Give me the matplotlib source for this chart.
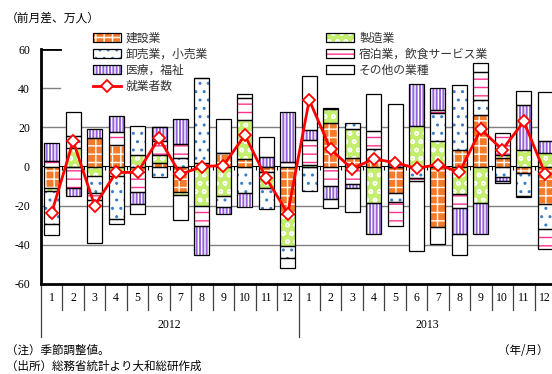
import numpy as np
import matplotlib
matplotlib.use("Agg")
import matplotlib.pyplot as plt

plt.rcParams['font.family'] = ['Noto Sans CJK JP', 'DejaVu Sans']
plt.rcParams['hatch.linewidth'] = 1.0

months = [str(m) for m in range(1, 13)] * 2
years = ["2012", "2013"]

series_names = ["建設業", "製造業", "卸売業，小売業", "宿泊業，飲食サービス業", "医療，福祉", "その他の業種"]

construction = [-11, 0, 14.6, 10.8, -2.9, 2, -13, 2, 6.9, 4, -2.9, -24.4,
                0, 22, 4.5, 3.5, -13.7, 0, -30.9, 8.6, 26.2, 4.5, -3.4, -19.2]
manufacturing = [-1.7, 9.6, -4.6, -4.6, 5.7, 4, -1.5, -20, -14.9, 20, -8, -16.3,
                 1, 7.2, 14.9, -18.4, 0, 20.6, 13, -14.1, -18.4, 1.2, 8.2, 6.9]
wholesale = [-16.8, 6, -9, -22.3, 15.1, -5.5, 4.5, 43, -6, -13.7, -10.8, -6,
             -12.3, 0.5, 2.6, 5.5, -4.6, -6, 14.1, 33.1, 7.7, -5.5, -11.5, -12.9]
hospitality = [3, -11, -3.4, 6.9, -10.3, 7, 6.9, -10.3, 0, 10.8, 0, 2.2,
               12.7, -9.8, -8.9, 9, -12, -1.5, 1.7, -6.9, 14.6, 11.5, -0.9, -9.8]
medical = [9.2, -4, 4.6, 8, -6, 7, 12.7, -15, -3.4, -7.2, 4.6, 25.7,
           5.1, -6.9, -2, -16, 1.5, 21.3, 11.1, -13.4, -16, -1.7, 23.2, 6.2]
others = [-5.7, 12.3, -22.3, -2.3, -4.8, 0, -13, 0, 17.2, 2, 10.3, -5.1,
          27.4, -4.3, -12.2, 19.2, 30.4, -35.5, -8.6, -10.6, 4.3, -1.4, 7.4, 24.7]
employed = [-23.5, 13, -20, -3, -3, 14.5, -4, 0, 0.5, 16, -6, -24,
            34, 8.7, -1.2, 3.9, 2, -0.9, 1, -2.9, 19, 8.6, 23, -3.8]

series = [construction, manufacturing, wholesale, hospitality, medical, others]
face_colors = ["#F47B2A", "#C3EE6E", "#FFFFFF", "#FFFFFF", "#9562D9", "#FFFFFF"]
hatch_colors = ["#FFFFFF", "#FFFFFF", "#3C7DC4", "#FF2F8E", "#FFFFFF", None]
hatches = ["++", "oo", "..", "--", "|||||", None]

fig = plt.figure(figsize=(5.52, 3.74), dpi=100)
ax = fig.add_axes([41 / 552, 1 - 284 / 374, 515 / 552, 235 / 374])

x = np.arange(len(months))
pos_base = np.zeros(len(x))
neg_base = np.zeros(len(x))
handles = []
for vals, fc, hc, h, name in zip(series, face_colors, hatch_colors, hatches, series_names):
    v = np.array(vals, dtype=float)
    bottom = np.where(v >= 0, pos_base, neg_base)
    b1 = ax.bar(x, v, 0.7, bottom=bottom, color=fc, edgecolor="none", linewidth=0, zorder=2)
    parts = [b1]
    if h:
        b2 = ax.bar(x, v, 0.7, bottom=bottom, facecolor="none", edgecolor=hc, linewidth=0,
                    hatch=h, zorder=2.1)
        parts.append(b2)
    b3 = ax.bar(x, v, 0.7, bottom=bottom, facecolor="none", edgecolor="black", linewidth=0.9,
                zorder=2.2)
    parts.append(b3)
    handles.append((tuple(p.patches[0] for p in parts), name))
    pos_base = pos_base + np.where(v >= 0, v, 0)
    neg_base = neg_base + np.where(v < 0, v, 0)

line, = ax.plot(x, employed, color="#FF0000", lw=2, marker="D", markersize=6,
                markerfacecolor="white", markeredgecolor="#FF0000", markeredgewidth=1.3, zorder=4)

ax.set_xlim(-0.5, len(x) - 0.5)
ax.set_ylim(-60, 60)
ax.set_yticks(np.arange(-60, 61, 20))
ax.set_yticklabels([str(v) for v in range(-60, 61, 20)], family="Liberation Serif", fontsize=8.5)
ax.tick_params(axis="y", length=0, pad=8)
ax.set_xticks([])
for yv in [20, -20, -40]:
    ax.axhline(yv, color="#808080", lw=1, zorder=1)
# short stubs at 60 and 40 (rest hidden behind the legend area in the original)
ax.axhline(60, xmin=0, xmax=19 / 515, color="black", lw=2, zorder=1)
ax.axhline(40, xmin=0, xmax=19 / 515, color="#808080", lw=1, zorder=1)
for s in ["top", "right"]:
    ax.spines[s].set_visible(False)
ax.spines["left"].set_linewidth(2)
ax.spines["bottom"].set_linewidth(2)

sec = ax.secondary_xaxis(0.5)
sec.set_xticks(np.arange(-0.5, len(x), 1))
sec.set_xticklabels([])
sec.tick_params(direction="in", length=3, width=0.8, color="black")
sec.spines["bottom"].set_linewidth(1)
sec.spines["bottom"].set_zorder(3)

trans = ax.get_xaxis_transform()
for i, m in enumerate(months):
    ax.text(i, -0.06, m, transform=trans, ha="center", va="center",
            family="Liberation Serif", fontsize=8.5)
for b in np.arange(-0.5, len(x), 1):
    is_year = (b + 0.5) % 12 == 0
    ax.plot([b, b], [0, -0.225 if is_year else -0.11], transform=trans, color="#404040",
            lw=0.9, clip_on=False)
for k, yr in enumerate(years):
    ax.text(5.5 + 12 * k, -0.175, yr, transform=trans, ha="center", va="center",
            family="Liberation Serif", fontsize=8.5)

order = [0, 2, 4, 6, 1, 3, 5]
all_handles = [h for h, _ in handles] + [line]
all_labels = [n for _, n in handles] + ["就業者数"]
leg = fig.legend([all_handles[i] for i in order], [all_labels[i] for i in order],
                 loc="upper left", bbox_to_anchor=(93 / 552, 1 - 31.5 / 374), ncol=2,
                 frameon=False, fontsize=8.5, handlelength=2.37, handleheight=0.7,
                 handletextpad=0.42, labelspacing=0.26, columnspacing=10.0, borderpad=0,
                 borderaxespad=0)
for t in leg.get_texts():
    t.set_color("#333333")

fig.text(6 / 552, 1 - 18 / 374, "（前月差、万人）", fontsize=8.5, va="center", ha="left")
fig.text(6 / 552, 1 - 350 / 374, "（注）季節調整値。", fontsize=8.3, va="center", ha="left")
fig.text(6 / 552, 1 - 366 / 374, "（出所）総務省統計より大和総研作成", fontsize=8.3, va="center", ha="left")
fig.text(549 / 552, 1 - 350 / 374, "（年/月）", fontsize=8.3, va="center", ha="right")

fig.savefig("out.png", dpi=100)
